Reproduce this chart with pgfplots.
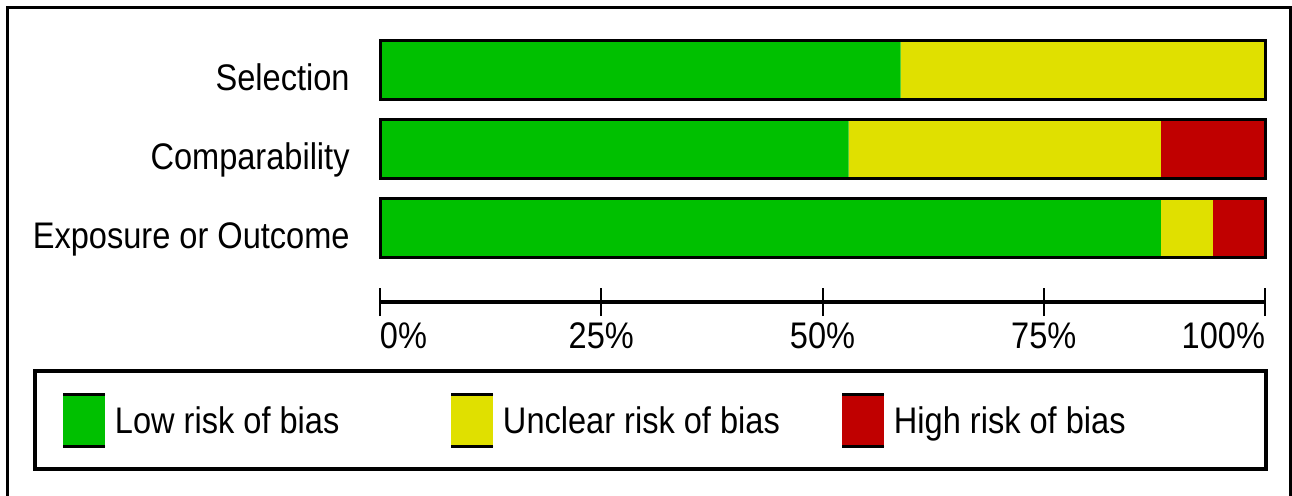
\documentclass[border=0pt]{standalone}
\usepackage{pgfplots}
\pgfplotsset{compat=1.18}
\usepackage{fontspec}
\setmainfont{Liberation Sans}[FakeStretch=0.88]

\definecolor{lowrisk}{RGB}{0,192,0}
\definecolor{unclearrisk}{RGB}{224,224,0}
\definecolor{highrisk}{RGB}{192,0,0}

% shared geometry of the bar axis and its outline overlay
\pgfplotsset{
  rob/.style={
    x=4.425pt, y=39.5pt,
    xmin=0, xmax=100, ymin=0.057, ymax=3.5,
    at={(190pt,-151pt)}, anchor=south west,
    clip=false, bar width=29.5pt,
  }
}

\begin{document}
\fontsize{18.5pt}{22pt}\selectfont
\begin{tikzpicture}
% outer frame
\draw[line width=1.5pt] (3.5pt,-3.5pt) rectangle (645.25pt,-270pt);

\begin{axis}[
    rob,
    xbar stacked,
    axis lines*=left,
    y axis line style={draw=none},
    x axis line style={line width=2pt},
    ytick={1,2,3},
    yticklabels={Exposure or Outcome, Comparability, Selection},
    ytick style={draw=none},
    yticklabel style={anchor=base east, inner sep=0pt, xshift=-15pt, yshift=-10.5pt},
    xtick={0,25,50,75,100},
    xticklabels={\makebox[0pt][l]{0\%}, 25\%, 50\%, 75\%, \makebox[0pt][r]{100\%}},
    xtick align=center,
    major tick length=14pt,
    xtick style={line width=1pt, black},
    xticklabel style={anchor=base, inner sep=0pt, yshift=-16pt},
    legend columns=3,
    legend cell align=left,
    legend image code/.code={
        \fill[#1] (0pt,-6.5pt) rectangle (21pt,19.5pt);
        \draw[black, line width=1.5pt] (0pt,19.5pt) -- (21pt,19.5pt) (0pt,-6.5pt) -- (21pt,-6.5pt);
    },
    legend style={
        at={(axis description cs:0,0)}, anchor=north west,
        xshift=-172.5pt, yshift=-34.5pt,
        draw=black, line width=2pt, outer sep=0pt,
        inner xsep=13.5pt, inner ysep=10.75pt,
        /tikz/every odd column/.append style={column sep=4pt},
        nodes={inner sep=0pt, anchor=base},
    },
]

% Low risk
\addplot[fill=lowrisk, draw=none]
    coordinates {(58.82,3) (52.94,2) (88.24,1)};

% Unclear risk
\addplot[fill=unclearrisk, draw=none]
    coordinates {(41.18,3) (35.29,2) (5.88,1)};

% High risk
\addplot[fill=highrisk, draw=none]
    coordinates {(0,3) (11.76,2) (5.88,1)};

\legend{\makebox[167.5pt][l]{Low risk of bias},
        \makebox[169pt][l]{Unclear risk of bias},
        \makebox[172.5pt][l]{High risk of bias}}
\end{axis}

% black outline round each whole bar
\begin{axis}[rob, hide axis]
\addplot[xbar, fill=none, draw=black, line width=1.5pt]
    coordinates {(100,3) (100,2) (100,1)};
\end{axis}

\pgfresetboundingbox
\path[use as bounding box] (0pt,0pt) rectangle (646pt,-247.5pt);
\end{tikzpicture}
\end{document}
